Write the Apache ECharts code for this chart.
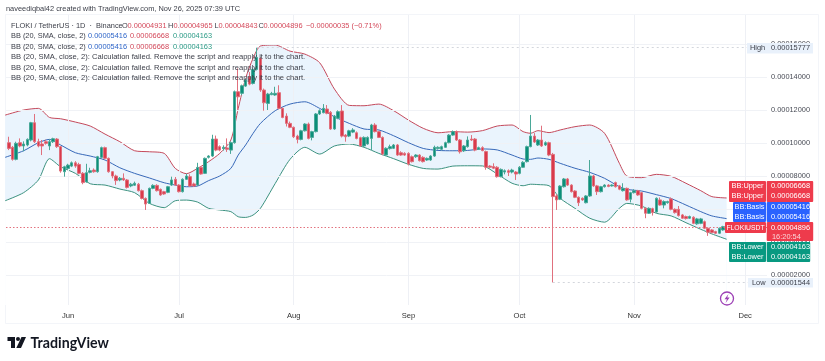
<!DOCTYPE html>
<html><head><meta charset="utf-8">
<script src="https://cdn.jsdelivr.net/npm/echarts@6/dist/echarts.min.js"></script>
<style>html,body{margin:0;padding:0;background:#fff}#c{width:825px;height:361px}</style>
</head><body><div id="c"></div>
<script>
// all prices in units of 0.000001 USDT
const UNIT = 1e-6;
const firstCandle = Date.UTC(2025,4,16);
const opens = [100.2,97.4,90.1,100.2,98.2,98.8,101.8,112.3,100.8,99.4,100.8,98.2,100.8,102.4,97.8,82.6,
84.6,86,88,87,81.6,76.4,82.2,83.6,82.6,91.3,97.2,90.7,82.6,80,77.6,78.6,77.6,74,74.4,75,71.1,66.4,63.4,72.5,74.3,71.9,70.5,70.1,74.5,78,74.5,70.5,78,79.6,75.2,74.5,85.2,81.6,91.3,92.1,102.4,97.8,96.6,97,95.7,100.2,131.1,130.1,134.5,140.2,136.1,144.6,151.3,132.1,124,129.3,129.1,130.5,121,116.3,111.9,109.5,104.2,102.2,107.4,111.5,103.4,106.9,117.6,118.4,120.6,118.6,108.5,115,119.4,104.8,104.2,106.6,106.2,103.2,98.2,99.4,102.8,110.9,106.9,103.4,92.7,96.6,96.8,98.8,94.1,93.7,93.7,91.7,91.7,92.7,91.3,89.7,89.7,92.1,96.6,96.2,97.4,100.2,104.8,106.9,101.8,95.3,97.8,102.4,102.4,96.2,97.2,94.8,86,85.7,85.3,79.6,82.4,83.2,82.4,82.4,81.6,85.3,88.7,97.8,104.2,98.8,101.8,98.8,100.2,93.1,67.9,65.9,73.5,78.2,74.5,70.9,67.1,66.5,63.8,67.9,80,74,70.5,73.5,74.5,74,76,74,71.1,72.5,65.9,69.9,71.1,69.9,60.4,57.4,60.2,58.2,65.5,62.4,63.8,66.1,59.8,59.8,56.4,55.4,54.4,55,51,51.3,52.3,48.3,47.3,46.3,45.3,47.3,49.31];
const closes = [96.7,90.1,99.8,98.2,99.4,102.2,112.3,100.8,98.2,98.2,99.8,100.8,102.6,97.8,83,85.6,
86.6,88,86,81.6,76,82,83.2,82.6,91.7,97.2,90.7,82.6,80,77.2,78.6,77.6,73.1,75,75.6,71.1,66.4,63,72.5,74.3,71.1,68.5,69.1,73.5,77.6,74.5,70.5,78,80,73.9,73.9,85.2,81.2,90.7,92.1,102.4,95.7,95.7,97.4,96.2,100.2,131.1,128,134.7,138.2,135.7,144.6,151.9,132.1,124.4,129.7,130.1,130.1,121,115.5,111.9,109.5,103.8,102.2,107.4,111.5,102.8,106.9,117.6,119.6,121,118,108.5,116.3,119,104.2,103.8,107.4,107.9,102.8,98.2,103.4,103.4,110.9,106.9,103.4,93.3,96.8,97.8,98.8,92.7,92.7,92.7,87.3,88.7,92.7,89.3,88.7,90.7,92.1,97.4,97.4,97.8,100.2,104.8,106.9,101.8,94.7,98.2,101.8,101.8,95.7,97.2,95.4,85.3,85.3,84.7,79.6,84,83.2,82.2,83.6,81.2,85.3,88.3,97.8,104.2,100.6,101.8,98.2,100.2,92.7,67.5,65.5,73.9,78.2,74.5,70.5,67.1,63.8,65.5,67.9,80,74,70.5,73.5,74.5,73.7,74.5,73.5,72,72.5,65.5,69.9,71.1,68.5,60.4,57.4,60.4,57.8,66.5,62.4,64.5,64.5,59.8,57.8,56,54.4,54.2,55.4,51.3,54,54,48.3,45.9,45.7,45.3,48.3,49.31,48.96];
const lows = [95.7,89.3,89.5,97.4,95,98,101,100,97.4,92.7,99,95.7,100,97,82,79.6,
83.8,85.4,85,81,75,76,81.6,82,82,90.6,90,82,78.6,74.6,76.8,77,72.4,73.2,74,70.6,65.8,59.4,63,72,70.6,68,68.6,69.6,74,74,70,70,77.6,73.4,73.4,74,80.8,81.2,90.6,91.6,95,95,95.4,94.6,93.4,99.6,120,129,134,135,135.5,144,131,119.6,120,129,128.6,120.4,115,110,109,103,99.8,101.6,107,102.2,101.6,106.4,117,118,117.4,108,108,114.4,103.4,100.8,103.6,106,102.2,97.6,97.6,99,95.7,106.4,103,92.6,92.4,96,96.4,92.2,92.2,92.2,86.4,88.2,91,88.8,88.2,89.2,89.2,91.6,96,95.6,97,99.8,104.4,101.2,93.6,94.6,97.2,101.2,95,95.8,95,83.8,84.6,84.2,79,79.2,81,80,81.6,77.6,81,85,88.2,97.4,100,98.2,97.6,98.2,92,15.44,59.4,65.4,73,74,70,66.6,61.8,65,63.4,67.4,73.4,68.5,70,73,73.2,73.6,73,71.4,70.6,65,64,69.4,68,59.8,54.4,57,56,57.8,62,60.4,63.2,59.2,57.2,55.4,54,53.6,54,50.8,50.4,50.8,47.8,43.7,45.2,44.8,44.8,46.8,48.43];
const highs = [103.8,98.2,100.8,102.8,101,102.8,112.8,117.6,102.6,101.8,102,102.2,103.2,103,98.2,86.2,
87.4,88.8,89,88,82.4,87.4,85,84.6,92.2,97.8,97.8,91.2,83,80.8,79.4,81.6,78.2,75.8,76.6,75.8,71.8,67,73,75,75,72.4,71,74,79.6,79.4,75,78.6,81.4,81,76,88,85.8,91.2,92.6,105,104.5,98.6,98.6,102.8,101,131.8,145.2,135.4,139,143,145.2,157.77,152,133,130.4,131,134.1,135,121.6,118,113,110,105,108,112,112.4,107.4,118.2,120.4,123.6,123,119.4,117,119.8,123,105.4,108,109,107,103.8,104,104,111.6,112,107.4,104,97.4,99,99.4,99.4,95,94.4,94.4,92.4,93.2,93.2,92,91.2,92.6,98.4,98,98.4,100.8,105.4,107.6,107.6,102.4,98.8,104,104.8,103,97.8,98,95.4,86.6,87.7,86,84.6,84,84,84.4,83,86,89,98.4,117,106,102.4,110.5,101,100.8,94,69,74.4,78.8,78.8,75,71.4,67.6,67,68.4,89.7,80.6,74.6,74,75,75,75,76.6,74.6,75.6,73,70.4,72,71.6,70.4,61,61,60.8,67,67,65.2,65,67,60.4,61.8,57,56,56,55.6,54.6,54.6,53,48.8,47.8,46.8,48.8,49.8,49.65];

const bandDays = [-17,-12,-8,-5,-2,2,6,10,14,18,22,26,29,32,35,38,41,44,46,48,50,52,56,60,64,68,72,76,80,84,88,92,96,100,104,108,112,116,120,123,125,127,130,133,137,141,145,149,151,155,159,163,167,171,174,178];
const upperBand = [116.9,120,121,115.5,114.7,112.7,110.3,105.4,100.8,95.3,94.7,93.7,84.6,81.4,84.6,88.7,93.7,101.8,121,139.2,151.3,158.8,159.4,155.7,153.9,148.7,132.7,122.8,122.6,123.6,119.6,113.9,108.9,106.2,106.9,106.6,107.5,110.3,110.9,106.9,105.9,107.5,106.3,107.9,109.9,110.9,105.9,87.7,80,79,81,79.8,75.6,71.1,67.5,66.68];
const basisBand = [91.3,95.3,100.2,102.2,98.8,94.1,92.1,89.7,85,81.6,78.8,75.9,74.5,73.5,73.9,77.2,80,84.6,92.7,98.8,105.8,111.9,119.6,123.6,125,121,115.9,111.9,108.5,107.9,104.4,100.2,96.7,95.5,95.3,95.5,96.4,95.8,92.7,90.3,90.1,90.9,90.1,87.7,84.7,82.2,78.6,73.5,71.9,70.9,68.7,66.3,62.4,58.4,55.8,54.16];
const lowerBand = [65,69.9,77.6,90.5,85.6,81.6,75.3,74.5,72.1,69.9,63.4,60.8,65,65.4,64.2,60.4,59.4,58.4,55.3,54.9,56.3,60.4,75.5,90.1,97.4,93.3,98.2,99.4,97.4,93.7,90.5,87.1,84.6,84.2,86,86.2,86.1,81.2,75.6,74.1,75,74.8,74.1,66.5,60.4,54.4,52,60.4,63.4,61.8,57.4,55.8,51.7,47.7,44.9,41.63];

const priceTicks = [20,40,60,80,100,120,140,160];
const monthTicks = [Date.UTC(2025,5,1),Date.UTC(2025,6,1),Date.UTC(2025,7,1),Date.UTC(2025,8,1),Date.UTC(2025,9,1),Date.UTC(2025,10,1),Date.UTC(2025,11,1)];
const monthNames = ['Jun','Jul','Aug','Sep','Oct','Nov','Dec'];
const lastPrice = 48.96, highPrice = 157.77, lowPrice = 15.44;
const highDay = 51, lowDay = 131;

const DAY = 86400000, JUN1 = Date.UTC(2025,5,1);
const xMin = JUN1 - 16.76*DAY, xMax = JUN1 + 188.9*DAY;
const RED='#d93a4b', GREEN='#0b8f7a';
const candles = opens.map((o,i)=>[firstCandle+i*DAY, o*UNIT, closes[i]*UNIT, lows[i]*UNIT, highs[i]*UNIT]);
const bandX = d => JUN1 + d*DAY;
const lineOf = (arr)=>arr.map((v,i)=>[bandX(bandDays[i]), v*UNIT]);

const F='"Liberation Sans",Arial,sans-serif';
const txt=(x,y,text,fill,o={})=>({type:'text',z:100,x,y,silent:true,style:{text,fill,font:(o.size||7.4)+'px '+F,textAlign:o.align||'left',textVerticalAlign:'middle'}});
const box=(x,y,w,h,fill,r)=>({type:'rect',z:99,silent:true,shape:{x,y,width:w,height:h,r:r||0},style:{fill}});
const INK='#3a3d47', C_BLUE='#2f66c9', C_RED='#d4495a', C_GREEN='#2a9a85';
const failMsg='BB (20, SMA, close, 2): Calculation failed. Remove the script and reapply it to the chart.';
const graphics=[
 {type:'rect',z:0,silent:true,shape:{x:5.5,y:14.5,width:813,height:309},style:{fill:'none',stroke:'#f3f5f9',lineWidth:1}},
 txt(6,9,'naveediqbal42 created with TradingView.com, Nov 26, 2025 07:39 UTC',INK,{size:7.4}),
 txt(11,26,'FLOKI / TetherUS · 1D  ·  Binance',INK),
 txt(122,26,'O',INK),txt(127.5,26,'0.00004931',C_RED),
 txt(168,26,'H',INK),txt(173.5,26,'0.00004965',C_RED),
 txt(214.5,26,'L',INK),txt(218.5,26,'0.00004843',C_RED),
 txt(258.5,26,'C',INK),txt(263.5,26,'0.00004896',C_RED),
 txt(306,26,'−0.00000035 (−0.71%)',C_RED),
 txt(11,36,'BB (20, SMA, close, 2)',INK),txt(88,36,'0.00005416',C_BLUE),txt(130,36,'0.00006668',C_RED),txt(173,36,'0.00004163',C_GREEN),
 txt(11,47,'BB (20, SMA, close, 2)',INK),txt(88,47,'0.00005416',C_BLUE),txt(130,47,'0.00006668',C_RED),txt(173,47,'0.00004163',C_GREEN),
 txt(11,57,failMsg,INK,{size:7.6}),txt(11,68,failMsg,INK,{size:7.6}),txt(11,78,failMsg,INK,{size:7.6}),
 box(747,43,66,10.5,'#e9f1fb'),txt(750,48,'High',INK),txt(771,48,'0.00015777',INK),
 box(748,278,65,9.5,'#e9f1fb'),txt(752,283,'Low',INK),txt(771,283,'0.00001544',INK),
 box(729,181,37,21,'#ee3b4c',1),box(766.7,181,46.5,21,'#ee3b4c',1),
 txt(747.5,186,'BB:Upper','#fff',{align:'center'}),txt(747.5,196,'BB:Upper','#fff',{align:'center'}),
 txt(771,186,'0.00006668','#fff'),txt(771,196,'0.00006668','#fff'),
 box(733,202,33,20,'#2962ff',1),box(766.7,202,43,20,'#2962ff',1),
 txt(749.5,207,'BB:Basis','#fff',{align:'center'}),txt(749.5,217,'BB:Basis','#fff',{align:'center'}),
 txt(771,207,'0.00005416','#fff'),txt(771,217,'0.00005416','#fff'),
 box(725,222,41,11,'#ee3b4c',1),box(766.7,222,46.5,19,'#ee3b4c',1),
 txt(745.5,228,'FLOKIUSDT','#fff',{align:'center',size:6.8}),txt(771,228,'0.00004896','#fff'),txt(772,237,'16:20:54','#fbd5d9'),
 box(729,242,37,20,'#089981',1),box(766.7,242,43.5,20,'#089981',1),
 txt(747.5,247,'BB:Lower','#fff',{align:'center'}),txt(747.5,257,'BB:Lower','#fff',{align:'center'}),
 txt(771,247,'0.00004163','#fff'),txt(771,257,'0.00004163','#fff'),
 {type:'circle',z:100,silent:true,shape:{cx:727,cy:298.5,r:6.5},style:{fill:'#fff',stroke:'#9c3fb5',lineWidth:1.3}},
 {type:'polygon',z:101,silent:true,shape:{points:[[728.5,294],[724.5,299.3],[726.9,299.3],[725.6,303],[729.6,297.6],[727.2,297.6]]},style:{fill:'#9c3fb5'}},
 {type:'polygon',z:100,silent:true,shape:{points:[[7.5,337],[15,337],[15,348],[11,348],[11,341],[7.5,341]]},style:{fill:'#131722'}},
 {type:'circle',z:100,silent:true,shape:{cx:18,cy:339,r:2},style:{fill:'#131722'}},
 {type:'polygon',z:100,silent:true,shape:{points:[[21.5,337],[26,337],[21,348],[16.3,348]]},style:{fill:'#131722'}},
 {type:'text',z:100,x:30.5,y:343,silent:true,style:{text:'TradingView',fill:'#131722',font:'700 14.2px Lato,"Liberation Sans",sans-serif',textVerticalAlign:'middle'}}
];

const chart=echarts.init(document.getElementById('c'),null,{renderer:'canvas'});
chart.setOption({
 animation:false,backgroundColor:'#fff',
 grid:{left:6,right:58,top:15,bottom:56},
 xAxis:{type:'value',min:xMin,max:xMax,z:1.5,
  axisLine:{show:false},
  axisTick:{show:false,customValues:monthTicks},
  axisLabel:{customValues:monthTicks,margin:7,fontSize:7.6,color:'#333',fontFamily:F,showMinLabel:true,showMaxLabel:true,
    formatter:v=>monthNames[monthTicks.indexOf(+v)]||''},
  splitLine:{show:true,lineStyle:{color:'#eef0f5',width:1}}},
 yAxis:{type:'value',position:'right',min:1.8*UNIT,max:177.6*UNIT,z:1.5,
  axisLine:{show:false},
  axisTick:{show:false,customValues:priceTicks.map(v=>v*UNIT)},
  axisLabel:{customValues:priceTicks.map(v=>v*UNIT),margin:4,fontSize:7.4,color:'#4a4d57',fontFamily:F,formatter:v=>(+v).toFixed(8)},
  splitLine:{show:true,lineStyle:{color:'#f0f2f6',width:1}}},
 series:[
  {name:'BB Upper',type:'line',data:lineOf(upperBand),symbol:'none',smooth:0.25,lineStyle:{color:'#c4495b',width:1},areaStyle:{color:'#eaf4fd',opacity:1,origin:'start'},silent:true,z:1},
  {name:'BB Lower',type:'line',data:lineOf(lowerBand),symbol:'none',smooth:0.25,lineStyle:{color:'#3b917f',width:1},areaStyle:{color:'#fff',opacity:1,origin:'start'},silent:true,z:1.2},
  {name:'BB Basis',type:'line',data:lineOf(basisBand),symbol:'none',smooth:0.25,lineStyle:{color:'#3768b8',width:1},silent:true,z:2},
  {name:'FLOKIUSDT',type:'candlestick',data:candles,barWidth:3,z:3,silent:true,
   itemStyle:{color:GREEN,color0:RED,borderColor:'#4aa898',borderColor0:'#e0707d',borderWidth:1},
   markLine:{silent:true,symbol:'none',label:{show:false},data:[
     [{coord:[xMin,lastPrice*UNIT],lineStyle:{color:'#e2727e',type:[1.5,2],width:1}},{coord:[xMax,lastPrice*UNIT]}],
     [{coord:[bandX(highDay),highPrice*UNIT],lineStyle:{color:'#d3d6dc',type:[2,3],width:1}},{coord:[xMax,highPrice*UNIT]}],
     [{coord:[bandX(lowDay),lowPrice*UNIT],lineStyle:{color:'#d3d6dc',type:[2,3],width:1}},{coord:[xMax,lowPrice*UNIT]}]
   ]}}
 ],
 graphic:graphics
});
</script></body></html>
